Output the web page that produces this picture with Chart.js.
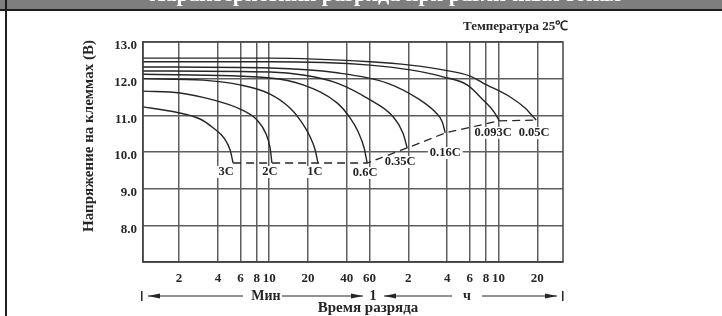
<!DOCTYPE html>
<html>
<head>
<meta charset="utf-8">
<script src="https://cdn.jsdelivr.net/npm/chart.js@4/dist/chart.umd.min.js"></script>
<style>
  html, body { margin: 0; padding: 0; background: #fff; }
  #wrap { width: 722px; height: 316px; }
</style>
</head>
<body>
<div id="wrap"><canvas id="dischargeChart" width="722" height="316"></canvas></div>
<script>
// Discharge curves: time in minutes (log axis), terminal voltage in volts.
const rates = ['3C', '2C', '1C', '0.6C', '0.35C', '0.16C', '0.093C', '0.05C'];

const time3C = [1.05, 1.87, 2.91, 3.67, 4.47, 4.97, 5.25];
const volt3C = [11.23, 11.09, 10.90, 10.66, 10.38, 10.06, 9.70];

const time2C = [1.05, 2.04, 3.67, 5.95, 8.06, 9.46, 10.16, 10.5];
const volt2C = [11.66, 11.61, 11.42, 11.17, 10.87, 10.49, 10.11, 9.70];

const time1C = [1.05, 3.07, 5.95, 10.16, 14.5, 17.4, 20.8, 22.7, 23.9];
const volt1C = [12.0, 11.96, 11.83, 11.58, 11.20, 10.87, 10.41, 10.06, 9.70];

const time06C = [1.05, 10.16, 18.3, 33.6, 42.4, 49, 54.5, 57.5];
const volt06C = [12.12, 12.02, 11.83, 11.34, 10.93, 10.55, 10.11, 9.70];

const time035C = [1.05, 10.16, 18.3, 33.6, 60.7, 91.4, 109, 117.5];
const volt035C = [12.21, 12.18, 12.10, 11.88, 11.42, 10.96, 10.52, 10.11];

const time016C = [1.05, 10.16, 33.6, 82.2, 148, 194, 220, 232];
const volt016C = [12.32, 12.29, 12.16, 11.88, 11.42, 11.09, 10.82, 10.52];

const time0093C = [1.05, 10.16, 60.7, 124, 223, 343, 456, 556, 608];
const volt0093C = [12.46, 12.46, 12.37, 12.24, 12.05, 11.83, 11.42, 11.09, 10.85];

const time005C = [1.05, 10.16, 60.7, 124, 223, 362, 456, 740, 966, 1115, 1177];
const volt005C = [12.56, 12.56, 12.46, 12.37, 12.24, 12.07, 11.88, 11.50, 11.20, 10.96, 10.87];

// end-of-discharge line joining the curve ends
const cutoffTime = [5.25, 57.5, 117.5, 232, 608, 1177];
const cutoffVolt = [9.70, 9.70, 10.11, 10.52, 10.85, 10.87];

const xTickValues = [2, 4, 6, 8, 10, 20, 40, 60, 120, 240, 360, 480, 600, 1200];
const xTickLabels = ['2', '4', '6', '8', '10', '20', '40', '60', '2', '4', '6', '8', '10', '20'];

const curveTimes = [time3C, time2C, time1C, time06C, time035C, time016C, time0093C, time005C];
const curveVolts = [volt3C, volt2C, volt1C, volt06C, volt035C, volt016C, volt0093C, volt005C];

// pixel nudge of each rate label from the end of its curve
const labelShift = [[-7, 9], [-2, 9], [-3, 9], [-2, 10], [-7, 14], [0, 20], [-6, 12], [-2, 13]];

const SERIF = '"Liberation Serif", "Times New Roman", serif';
const INK = '#262626';

function toPoints(xs, ys) {
  return xs.map((x, i) => ({ x: x, y: ys[i] }));
}

const datasets = rates.map((rate, i) => ({
  label: rate,
  data: toPoints(curveTimes[i], curveVolts[i]),
  borderColor: INK,
  borderWidth: 1.4,
  pointRadius: 0,
  cubicInterpolationMode: 'monotone',
  fill: false
}));

datasets.push({
  label: 'cutoff',
  data: toPoints(cutoffTime, cutoffVolt),
  borderColor: INK,
  borderWidth: 1.3,
  borderDash: [8, 5],
  pointRadius: 0,
  tension: 0,
  fill: false
});

function arrowHead(ctx, x, y, dir) {
  ctx.beginPath();
  ctx.moveTo(x, y);
  ctx.lineTo(x - dir * 12, y - 2.5);
  ctx.lineTo(x - dir * 12, y + 2.5);
  ctx.closePath();
  ctx.fill();
}

function arrow(ctx, x1, x2, y, headAtStart) {
  ctx.beginPath();
  ctx.moveTo(x1, y);
  ctx.lineTo(x2, y);
  ctx.stroke();
  if (headAtStart) arrowHead(ctx, x1, y, -1);
  else arrowHead(ctx, x2, y, 1);
}

const decorations = {
  id: 'decorations',
  beforeDraw(chart) {
    const ctx = chart.ctx;
    ctx.save();
    ctx.fillStyle = '#fff';
    ctx.fillRect(0, 0, chart.width, chart.height);
    ctx.restore();
  },
  afterDatasetsDraw(chart) {
    const ctx = chart.ctx;
    ctx.save();
    ctx.font = 'bold 12.5px ' + SERIF;
    ctx.textAlign = 'center';
    ctx.textBaseline = 'middle';
    rates.forEach((rate, i) => {
      const pts = chart.getDatasetMeta(i).data;
      const end = pts[pts.length - 1];
      const x = end.x + labelShift[i][0];
      const y = end.y + labelShift[i][1];
      const w = ctx.measureText(rate).width;
      ctx.fillStyle = '#fff';
      ctx.fillRect(x - w / 2 - 2, y - 6, w + 4, 12);
      ctx.fillStyle = INK;
      ctx.fillText(rate, x, y);
    });
    ctx.restore();
  },
  afterDraw(chart) {
    const ctx = chart.ctx;
    const area = chart.chartArea;
    ctx.save();

    // plot frame
    ctx.strokeStyle = '#444';
    ctx.lineWidth = 1.5;
    ctx.strokeRect(area.left, area.top, area.right - area.left, area.bottom - area.top);

    // grey header strip; only the foot of its heading shows
    ctx.fillStyle = '#7e7e7e';
    ctx.fillRect(0, 0, chart.width, 9);
    ctx.save();
    ctx.beginPath();
    ctx.rect(0, 0, chart.width, 9);
    ctx.clip();
    ctx.fillStyle = '#fff';
    ctx.font = 'bold 22px ' + SERIF;
    ctx.textAlign = 'center';
    ctx.textBaseline = 'bottom';
    ctx.fillText('Характеристики разряда при различных токах', 385, 6);
    ctx.restore();
    ctx.fillStyle = '#1e1e1e';
    ctx.fillRect(0, 9, chart.width, 2);
    ctx.fillRect(5, 0, 2, chart.height);

    ctx.fillStyle = INK;
    ctx.strokeStyle = INK;

    // temperature note
    ctx.font = 'bold 13px ' + SERIF;
    ctx.textAlign = 'left';
    ctx.textBaseline = 'middle';
    ctx.fillText('Температура 25℃', 463, 27);

    // vertical axis title
    ctx.save();
    ctx.translate(89, 136);
    ctx.rotate(-Math.PI / 2);
    ctx.font = 'bold 15px ' + SERIF;
    ctx.textAlign = 'center';
    ctx.textBaseline = 'middle';
    ctx.fillText('Напряжение на клеммах (В)', 0, 0);
    ctx.restore();

    // time range arrows under the axis
    const ay = 296;
    ctx.lineWidth = 1;
    ctx.fillRect(141, ay - 5, 1.5, 10);
    arrow(ctx, 148, 243, ay, true);
    arrow(ctx, 282, 363, ay, false);
    arrow(ctx, 384, 452, ay, true);
    arrow(ctx, 482, 557, ay, false);
    ctx.fillRect(562, ay - 5, 1.5, 10);
    ctx.font = 'bold 14px ' + SERIF;
    ctx.textAlign = 'center';
    ctx.fillText('Мин', 266, ay);
    ctx.fillText('1', 373, ay);
    ctx.fillText('ч', 467, ay);
    ctx.font = 'bold 15px ' + SERIF;
    ctx.fillText('Время разряда', 368, 308);

    ctx.restore();
  }
};

new Chart(document.getElementById('dischargeChart'), {
  type: 'line',
  data: { datasets: datasets },
  options: {
    responsive: false,
    animation: false,
    layout: { padding: { left: 0, top: 42, right: 159, bottom: 0 } },
    plugins: {
      legend: { display: false },
      tooltip: { enabled: false }
    },
    scales: {
      x: {
        type: 'logarithmic',
        min: 1.05,
        max: 1900,
        afterBuildTicks: (axis) => {
          axis.ticks = xTickValues.map(v => ({ value: v }));
        },
        afterFit: (axis) => { axis.height = 54; },
        grid: { color: '#5e5e5e', lineWidth: 1.5, drawTicks: false },
        border: { color: '#444', width: 1.5 },
        ticks: {
          autoSkip: false,
          maxRotation: 0,
          padding: 9,
          color: INK,
          font: { family: SERIF, size: 13, weight: 'bold' },
          callback: (value) => {
            const i = xTickValues.indexOf(value);
            return i >= 0 ? xTickLabels[i] : '';
          }
        }
      },
      y: {
        min: 7,
        max: 13,
        afterFit: (axis) => { axis.width = 143; },
        grid: { color: '#5e5e5e', lineWidth: 1.5, drawTicks: false },
        border: { color: '#444', width: 1.5 },
        ticks: {
          stepSize: 1,
          padding: 6,
          labelOffset: 4,
          color: INK,
          font: { family: SERIF, size: 13, weight: 'bold' },
          callback: (value) => value === 7 ? '' : value.toFixed(1)
        }
      }
    }
  },
  plugins: [decorations]
});
</script>
</body>
</html>
